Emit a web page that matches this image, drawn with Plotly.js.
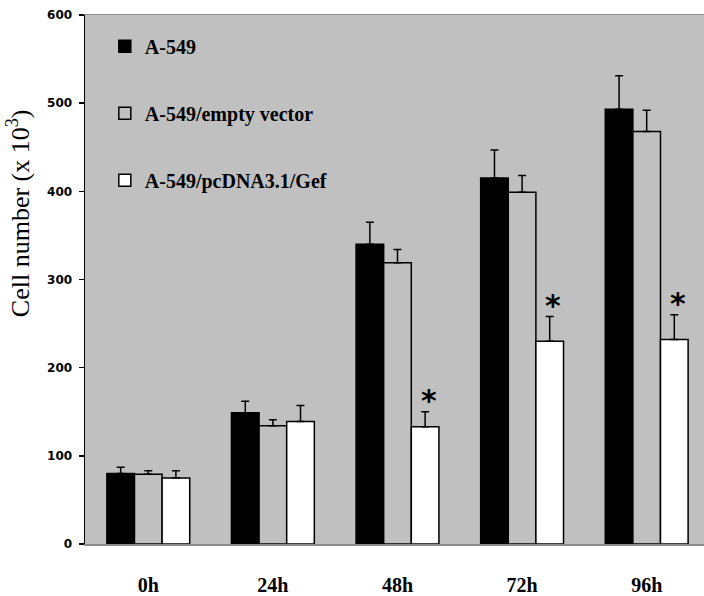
<!DOCTYPE html>
<html>
<head>
<meta charset="utf-8">
<script src="https://cdn.plot.ly/plotly-3.0.1.min.js"></script>
<style>html,body{margin:0;padding:0;background:#fff;}</style>
</head>
<body>
<div id="chart" style="width:704px;height:596px;"></div>
<script>
var categories = ['0h', '24h', '48h', '72h', '96h'];
var seriesNames = ['A-549', 'A-549/empty vector', 'A-549/pcDNA3.1/Gef'];
var a549 = [80, 149, 340, 415, 493];
var a549Err = [7, 13, 25, 32, 38];
var emptyVector = [79, 134, 319, 399, 468];
var emptyVectorErr = [4, 7, 15, 19, 24];
var gef = [75, 139, 133, 230, 232];
var gefErr = [8, 18, 17, 28, 28];
var significance = ['', '', '*', '*', '*'];
var yTicks = [0, 100, 200, 300, 400, 500, 600];

var fills = ['#000000', '#c0c0c0', '#ffffff'];
var values = [a549, emptyVector, gef];
var errs = [a549Err, emptyVectorErr, gefErr];

var traces = values.map(function (v, k) {
  return {
    type: 'bar',
    name: seriesNames[k],
    x: categories,
    y: v,
    legendgroup: 'g' + k,
    marker: {color: fills[k], line: {color: '#000', width: 1.5}},
    error_y: {
      type: 'data', symmetric: false, array: errs[k],
      arrayminus: errs[k].map(function () { return 0; }),
      color: '#000', thickness: 1.5, width: 4
    },
    hoverinfo: 'x+y'
  };
});

var bargap = 0.335;
var barW = (1 - bargap) / 3;
var annotations = [];
significance.forEach(function (s, i) {
  if (!s) return;
  annotations.push({
    xref: 'x', yref: 'y',
    x: i + barW + 0.03, y: gef[i] + gefErr[i],
    text: s, showarrow: false, yanchor: 'bottom', yshift: -8,
    font: {family: 'DejaVu Sans', size: 30, color: '#000', weight: 'bold'}
  });
});
annotations.push({
  xref: 'paper', yref: 'paper', x: -0.107, y: 0.625,
  xanchor: 'center', yanchor: 'middle', textangle: -90, showarrow: false,
  text: 'Cell number (x 10<sup>3</sup>)',
  font: {family: 'Liberation Serif', size: 26, color: '#000'}
});

var layout = {
  width: 704, height: 596,
  margin: {l: 85, r: 0, t: 15, b: 52},
  paper_bgcolor: '#ffffff',
  plot_bgcolor: '#c0c0c0',
  barmode: 'group',
  bargap: bargap,
  bargroupgap: 0,
  showlegend: true,
  legend: {
    x: 0.032, y: 0.978, xanchor: 'left', yanchor: 'top',
    bgcolor: 'rgba(0,0,0,0)', borderwidth: 0,
    traceorder: 'grouped', tracegroupgap: 38,
    font: {family: 'Liberation Serif', size: 20, color: '#000', weight: 'bold'}
  },
  xaxis: {
    type: 'category',
    range: [-0.508, 4.46],
    showgrid: false, zeroline: false,
    showline: true, linecolor: '#8c8c8c', linewidth: 1.5, mirror: true,
    ticks: '', ticklabelstandoff: 22,
    tickfont: {family: 'Liberation Serif', size: 20, color: '#000', weight: 'bold'}
  },
  yaxis: {
    range: [0, 600],
    tickvals: yTicks,
    showgrid: false, zeroline: false,
    showline: true, linecolor: '#000', linewidth: 1.5,
    ticks: 'outside', ticklen: 5, tickwidth: 1.5, tickcolor: '#000',
    ticklabelstandoff: 4,
    tickfont: {family: 'DejaVu Sans', size: 12, color: '#000', weight: 'bold'}
  },
  annotations: annotations
};

Plotly.newPlot('chart', traces, layout, {displayModeBar: false, staticPlot: true});
</script>
</body>
</html>
